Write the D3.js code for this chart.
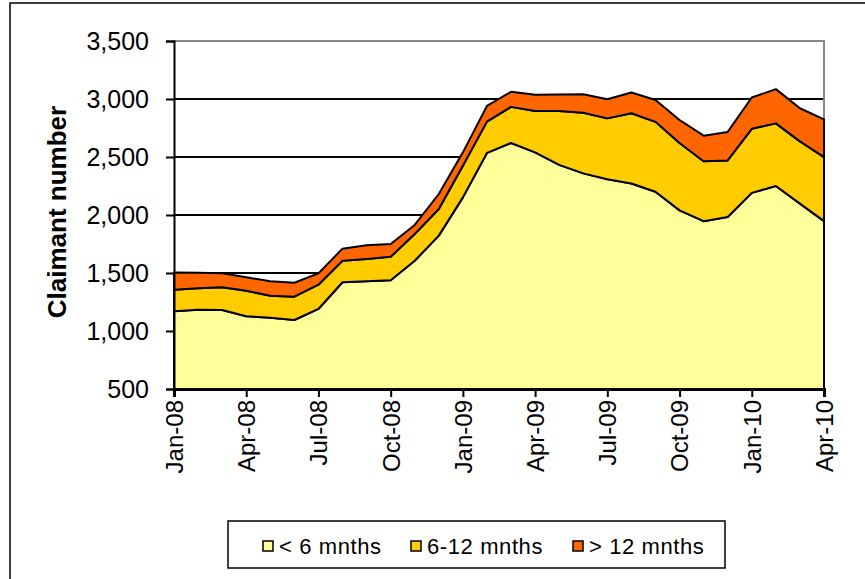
<!DOCTYPE html>
<html>
<head>
<meta charset="utf-8">
<script src="https://cdn.jsdelivr.net/npm/d3@7"></script>
<style>
  body { margin: 0; background: #fff; }
  text { font-family: Arial, "Liberation Sans", sans-serif; fill: #000; }
</style>
</head>
<body>
<div id="chart"></div>
<script>
// months, Jan-08 .. Apr-10
var months = ["Jan-08","Feb-08","Mar-08","Apr-08","May-08","Jun-08","Jul-08","Aug-08","Sep-08","Oct-08","Nov-08","Dec-08",
              "Jan-09","Feb-09","Mar-09","Apr-09","May-09","Jun-09","Jul-09","Aug-09","Sep-09","Oct-09","Nov-09","Dec-09",
              "Jan-10","Feb-10","Mar-10","Apr-10"];

// claimants by duration
var under6  = [1170,1184,1181,1127,1115,1095,1190,1420,1428,1437,1606,1822,2152,2535,2621,2540,2432,2359,2308,2272,2200,2040,1947,1983,2191,2250,2098,1947];
var six12   = [186,184,196,220,189,201,209,186,193,203,230,230,273,270,311,357,465,523,525,605,603,581,517,487,552,540,537,552];
var over12  = [149,134,121,116,124,120,98,104,119,110,78,129,115,135,130,139,142,159,165,179,189,198,220,246,270,295,285,325];

var seriesNames = ["< 6 mnths", "6-12 mnths", "> 12 mnths"];
var colors = ["#FFFF99", "#FFCC00", "#FF6600"];
var yTicks = [500,1000,1500,2000,2500,3000,3500];

var W = 865, H = 579;
var margin = {top: 41, left: 174, right: 41, bottom: 190};
var width = W - margin.left - margin.right,
    height = H - margin.top - margin.bottom;

var svg = d3.select("#chart").append("svg")
    .attr("width", W).attr("height", H);

// outer frame
svg.append("rect")
    .attr("x", 10).attr("y", 3)
    .attr("width", W + 10).attr("height", H + 10)
    .attr("fill", "none").attr("stroke", "#000").attr("stroke-width", 1.5);

var g = svg.append("g")
    .attr("transform", "translate(" + margin.left + "," + margin.top + ")");

var x = d3.scaleLinear().domain([0, months.length - 1]).range([0, width]);
var y = d3.scaleLinear().domain([500, 3500]).range([height, 0]);

// gridlines
g.selectAll(".grid")
  .data(yTicks.filter(function(d){ return d > 500 && d < 3500; }))
  .enter().append("line")
    .attr("x1", 0).attr("x2", width)
    .attr("y1", function(d){ return y(d); })
    .attr("y2", function(d){ return y(d); })
    .attr("stroke", "#000").attr("stroke-width", 1.5)
    .attr("shape-rendering", "crispEdges");

// plot area border (top and right)
g.append("path")
    .attr("d", "M0," + y(3500) + "H" + width + "V" + height)
    .attr("fill", "none").attr("stroke", "#888").attr("stroke-width", 2)
    .attr("shape-rendering", "crispEdges");

// stacked data
var table = months.map(function(m, i){
  return {i: i, a: under6[i], b: six12[i], c: over12[i]};
});
var stack = d3.stack().keys(["a","b","c"]);
var layers = stack(table);

g.append("clipPath").attr("id", "clip")
  .append("rect").attr("x", -2).attr("y", -2).attr("width", width + 4).attr("height", height + 2);

var area = d3.area()
    .x(function(d){ return x(d.data.i); })
    .y0(function(d){ return y(d[0]); })
    .y1(function(d){ return y(d[1]); });

g.append("g").attr("clip-path", "url(#clip)")
  .selectAll("path")
  .data(layers)
  .enter().append("path")
    .attr("d", function(d){ return area(d) + "Z"; })
    .attr("fill", function(d, i){ return colors[i]; })
    .attr("stroke", "#000").attr("stroke-width", 2)
    .attr("stroke-linejoin", "round");

// y axis
var yAxis = g.append("g")
    .call(d3.axisLeft(y).tickValues(yTicks).tickSize(8).tickPadding(17)
      .tickFormat(d3.format(",")));
yAxis.select(".domain").attr("stroke-width", 2);
yAxis.selectAll(".tick line").attr("stroke-width", 2);
yAxis.selectAll("text").style("font-size", "25px");

// x axis
var xAxis = g.append("g")
    .attr("transform", "translate(0," + height + ")")
    .call(d3.axisBottom(x).tickValues(d3.range(0, months.length, 3)).tickSize(8)
      .tickFormat(function(i){ return months[i]; }));
xAxis.select(".domain").attr("stroke-width", 3);
xAxis.selectAll(".tick line").attr("stroke-width", 2);
xAxis.selectAll("text")
    .style("font-size", "24px")
    .attr("text-anchor", "end")
    .attr("transform", "translate(0,11) rotate(-90)")
    .attr("x", 0).attr("y", 0).attr("dy", "0.35em");

// y title
svg.append("text")
    .attr("transform", "translate(57,212) rotate(-90)")
    .attr("text-anchor", "middle")
    .attr("dy", "0.35em")
    .style("font-size", "26px").style("font-weight", "bold")
    .text("Claimant number");

// legend
var legend = svg.append("g");
legend.append("rect")
    .attr("x", 228).attr("y", 521).attr("width", 497).attr("height", 47)
    .attr("fill", "#fff").attr("stroke", "#000").attr("stroke-width", 1.5);

var legendX = [263, 411, 573];
var items = legend.selectAll(".item").data(seriesNames).enter().append("g")
    .attr("transform", function(d, i){ return "translate(" + legendX[i] + ",541)"; });
items.append("rect")
    .attr("width", 10).attr("height", 10)
    .attr("fill", function(d, i){ return colors[i]; })
    .attr("stroke", "#000").attr("stroke-width", 1.5);
items.append("text")
    .attr("x", 16).attr("y", 5).attr("dy", "0.35em")
    .style("font-size", "22px").style("letter-spacing", "0.6px")
    .text(function(d){ return d; });
</script>
</body>
</html>
